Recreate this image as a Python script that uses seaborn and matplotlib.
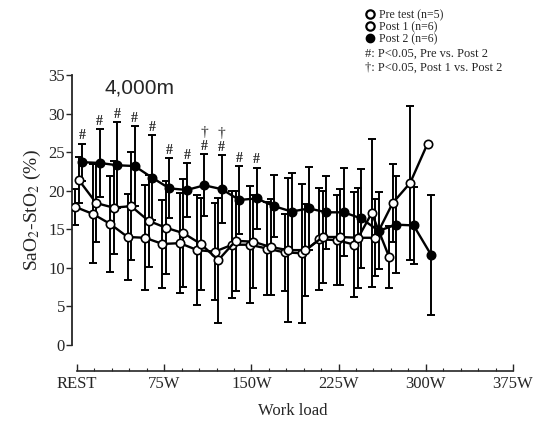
import numpy as np
import pandas as pd
import matplotlib
matplotlib.use("Agg")
import matplotlib.pyplot as plt
from matplotlib.lines import Line2D
from matplotlib.ticker import MultipleLocator
import seaborn as sns

# Work load steps (W), REST = 0
loads = list(range(0, 301, 15))

# Means and SD (SaO2-StO2, %)
pre_mean = [17.9, 17.0, 15.7, 14.0, 13.9, 13.1, 13.2, 12.3, 12.1, 13.0, 13.0,
            12.5, 12.0, 11.9, 13.7, 13.6, 13.0, 17.1, 11.4]
pre_sd = [2.3, 6.4, 6.2, 5.6, 6.8, 5.7, 6.5, 7.1, 6.3, 6.9, 7.6,
          6.0, 5.0, 9.0, 6.6, 5.8, 6.8, 9.6, 4.0]

post1_mean = [21.4, 18.4, 17.8, 18.0, 16.1, 15.2, 14.5, 13.1, 11.0, 13.5, 13.4,
              12.7, 12.3, 12.3, 14.0, 14.0, 13.9, 13.9, 18.4, 21.0, 26.1]
post1_sd = [3.0, 5.0, 6.0, 7.0, 6.0, 6.0, 7.0, 6.0, 8.1, 6.5, 6.0,
            6.2, 9.3, 6.0, 6.0, 6.2, 6.5, 5.0, 5.0, 10.0, np.nan]

post2_mean = [23.7, 23.6, 23.3, 23.2, 21.7, 20.3, 20.1, 20.7, 20.2, 18.8, 19.0,
              18.0, 17.3, 17.7, 17.2, 17.2, 16.4, 14.8, 15.6, 15.5, 11.7]
post2_sd = [2.4, 4.4, 5.6, 5.2, 5.5, 3.9, 3.5, 4.0, 4.4, 4.4, 4.0,
            4.0, 5.0, 5.4, 4.7, 5.7, 6.4, 5.0, 6.3, 5.0, 7.8]

# significance marks (loads)
hash_loads = [0, 15, 30, 45, 60, 75, 90, 105, 120, 135, 150]
dagger_loads = [105, 120]

tick_pos = [0, 75, 150, 225, 300, 375]
tick_lab = ["REST", "75W", "150W", "225W", "300W", "375W"]

sns.set_style("ticks")
plt.rcParams["font.family"] = ["Liberation Serif", "DejaVu Serif"]
plt.rcParams["mathtext.fontset"] = "stix"

fig = plt.figure(figsize=(5.44, 4.21), dpi=100)
ax = fig.add_axes([72 / 544, 1 - 345 / 421, (513 - 72) / 544, 270 / 421])

series = [
    ("Pre test", pre_mean, pre_sd, -1.5, "white"),
    ("Post 1", post1_mean, post1_sd, 1.5, "white"),
    ("Post 2", post2_mean, post2_sd, 4.5, "black"),
]

rows = []
for name, m, s, dx, fc in series:
    for w, v, e in zip(loads, m, s):
        rows.append({"group": name, "step": w, "load": w + dx, "value": v, "sd": e})
df = pd.DataFrame(rows)

# error bars first, then lines and markers on top
for name, m, s, dx, fc in series:
    d = df[df.group == name]
    ax.errorbar(d["load"], d["value"], yerr=d["sd"], fmt="none", ecolor="black",
                elinewidth=1.4, capsize=3, capthick=1.4, zorder=2)

for name, m, s, dx, fc in series:
    d = df[df.group == name]
    sns.lineplot(data=d, x="load", y="value", ax=ax, color="black", linewidth=1.7,
                 marker="o", markersize=6, markerfacecolor=fc, markeredgecolor="black",
                 markeredgewidth=1.2, zorder=3, legend=False)

# significance symbols above Post 2 bars
p2 = df[df.group == "Post 2"].set_index("step")
for w in hash_loads:
    top = p2.loc[w, "value"] + p2.loc[w, "sd"]
    ax.annotate("#", (p2.loc[w, "load"], top), xytext=(0, 1), textcoords="offset points",
                ha="center", va="bottom", fontsize=10, fontweight="bold")
for w in dagger_loads:
    top = p2.loc[w, "value"] + p2.loc[w, "sd"]
    ax.annotate("\u2020", (p2.loc[w, "load"], top), xytext=(0, 11), textcoords="offset points",
                ha="center", va="bottom", fontsize=11)

ax.set_xlim(-4.3, 375)
ax.set_ylim(0, 35)
ax.set_xticks(tick_pos)
ax.set_xticklabels(tick_lab)
ax.xaxis.set_minor_locator(MultipleLocator(15))
ax.yaxis.set_major_locator(MultipleLocator(5))
ax.tick_params(axis="x", direction="in", length=5, width=1, labelsize=12, pad=3)
ax.tick_params(axis="x", which="minor", direction="in", length=2.5, width=0.8)
ax.tick_params(axis="y", direction="out", length=4, width=1, labelsize=12, pad=1)

ax.spines["top"].set_visible(False)
ax.spines["right"].set_visible(False)
ax.spines["bottom"].set_position(("outward", 19))
ax.spines["bottom"].set_bounds(0, 375)
ax.spines["left"].set_bounds(0, 35)
ax.spines["left"].set_linewidth(1.3)
ax.spines["bottom"].set_linewidth(1.2)

ax.set_xlabel("Work load", fontsize=12, labelpad=8)
ax.set_ylabel("SaO$_2$-StO$_2$ (%)", fontsize=14, labelpad=4)

ax.text(24, 33.3, "4,000m", fontsize=15, family="Liberation Sans", va="center")

handles = [
    Line2D([], [], marker="o", linestyle="none", markerfacecolor="white",
           markeredgecolor="black", markersize=6, markeredgewidth=1.6),
    Line2D([], [], marker="o", linestyle="none", markerfacecolor="white",
           markeredgecolor="black", markersize=6, markeredgewidth=1.6),
    Line2D([], [], marker="o", linestyle="none", markerfacecolor="black",
           markeredgecolor="black", markersize=6),
]
fig.legend(handles, ["Pre test (n=5)", "Post 1 (n=6)", "Post 2 (n=6)"],
           loc="upper left", bbox_to_anchor=(358 / 544, 0.997), frameon=False,
           fontsize=8.5, handlelength=0.6, handletextpad=0.5, labelspacing=0.0,
           borderpad=0.2)
fig.text(365 / 544, 1 - 54 / 421, "#: P<0.05, Pre vs. Post 2", fontsize=9, va="center")
fig.text(365 / 544, 1 - 68 / 421, "\u2020: P<0.05, Post 1 vs. Post 2", fontsize=9, va="center")

fig.savefig("out.png", dpi=100)
